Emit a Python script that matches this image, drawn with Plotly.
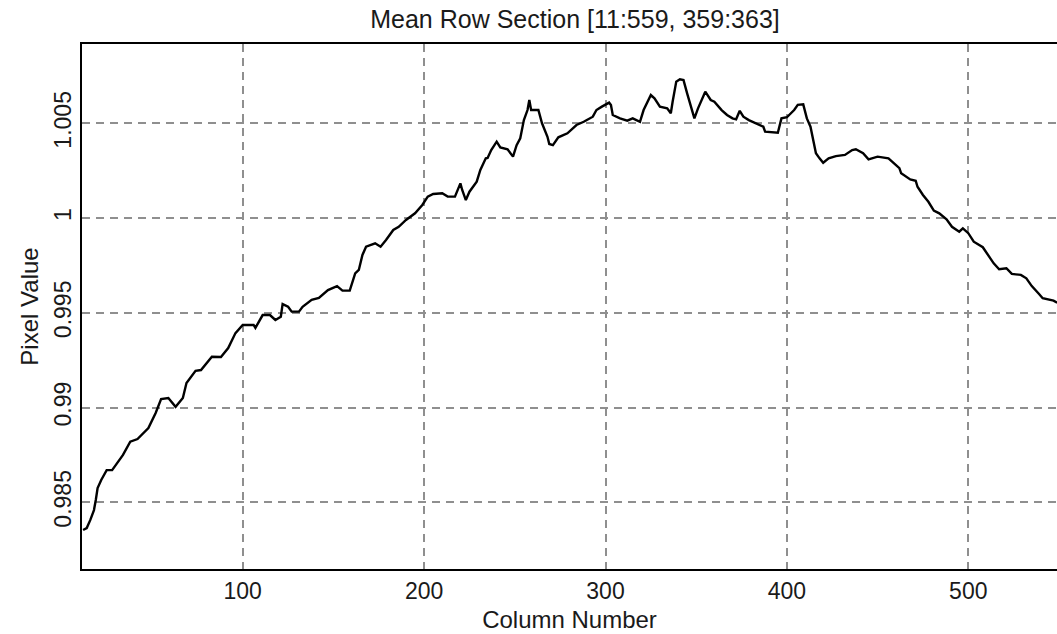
import plotly.graph_objects as go

columns = [12, 14, 16, 18, 19, 20, 22, 25, 28, 31, 34, 38, 42, 48, 52, 55, 59, 63, 67, 69,
           74, 77, 83, 88, 92, 96, 100, 106, 107, 111, 115, 118, 121, 122, 125, 127, 131, 133, 138, 142,
           147, 152, 155, 159, 162, 164, 166, 168, 173, 176, 179, 183, 186, 190, 195, 199, 202, 205, 210, 213,
           217, 220, 221, 223, 225, 229, 231, 234, 235, 237, 240, 242, 246, 249, 251, 253, 255, 257, 258, 259,
           263, 265, 268, 269, 271, 274, 279, 284, 288, 293, 295, 298, 302, 303, 304, 308, 312, 315, 319, 321,
           325, 327, 330, 334, 336, 337, 339, 341, 343, 345, 347, 348, 349, 351, 353, 355, 358, 360, 364, 367,
           370, 372, 374, 376, 379, 382, 387, 388, 392, 395, 397, 400, 404, 406, 409, 411, 413, 415, 416, 418,
           420, 423, 427, 432, 436, 438, 442, 445, 450, 456, 459, 462, 463, 468, 471, 472, 475, 478, 481, 484,
           488, 491, 495, 497, 500, 503, 508, 511, 514, 517, 521, 524, 529, 532, 535, 539, 541, 547, 549]

pixel_values = [0.98354, 0.98364, 0.98407, 0.98459, 0.98512, 0.98575, 0.98618, 0.98670, 0.98670, 0.98707,
                0.98750, 0.98820, 0.98834, 0.98892, 0.98971, 0.99045, 0.99050, 0.99004, 0.99050, 0.99130,
                0.99194, 0.99198, 0.99268, 0.99267, 0.99314, 0.99393, 0.99436, 0.99436, 0.99420, 0.99488,
                0.99488, 0.99462, 0.99479, 0.99546, 0.99532, 0.99506, 0.99506, 0.99532, 0.99568, 0.99578,
                0.99620, 0.99641, 0.99617, 0.99617, 0.99708, 0.99726, 0.99805, 0.99849, 0.99867, 0.99849,
                0.99884, 0.99937, 0.99954, 0.99990, 1.00025, 1.00069, 1.00113, 1.00127, 1.00131, 1.00113,
                1.00113, 1.00183, 1.00148, 1.00095, 1.00139, 1.00192, 1.00254, 1.00315, 1.00317, 1.00359,
                1.00403, 1.00373, 1.00363, 1.00324, 1.00385, 1.00421, 1.00517, 1.00570, 1.00623, 1.00570,
                1.00570, 1.00500, 1.00429, 1.00391, 1.00385, 1.00426, 1.00447, 1.00491, 1.00508, 1.00535,
                1.00570, 1.00588, 1.00609, 1.00597, 1.00544, 1.00526, 1.00514, 1.00526, 1.00508, 1.00570,
                1.00649, 1.00632, 1.00588, 1.00579, 1.00553, 1.00614, 1.00720, 1.00732, 1.00728, 1.00658,
                1.00588, 1.00561, 1.00526, 1.00579, 1.00627, 1.00667, 1.00623, 1.00614, 1.00570, 1.00544,
                1.00526, 1.00521, 1.00566, 1.00535, 1.00517, 1.00503, 1.00482, 1.00456, 1.00453, 1.00450,
                1.00526, 1.00532, 1.00570, 1.00597, 1.00600, 1.00526, 1.00482, 1.00377, 1.00342, 1.00315,
                1.00292, 1.00315, 1.00327, 1.00333, 1.00359, 1.00363, 1.00342, 1.00310, 1.00324, 1.00315,
                1.00289, 1.00263, 1.00236, 1.00204, 1.00197, 1.00165, 1.00122, 1.00086, 1.00039, 1.00025,
                0.99993, 0.99954, 0.99928, 0.99946, 0.99920, 0.99875, 0.99846, 0.99805, 0.99761, 0.99730,
                0.99735, 0.99705, 0.99700, 0.99682, 0.99641, 0.99599, 0.99577, 0.99564, 0.99553]

x_ticks = [100, 200, 300, 400, 500]
x_tick_labels = ["100", "200", "300", "400", "500"]
y_ticks = [0.985, 0.99, 0.995, 1.0, 1.005]
y_tick_labels = ["0.985", "0.99", "0.995", "1", "1.005"]

title_text = "Mean Row Section [11:559, 359:363]"
x_title = "Column Number"
y_title = "Pixel Value"

FONT = "Liberation Sans, Arial, sans-serif"
TEXT = "#1a1a1a"
GRID = "#8f8f8f"

fig = go.Figure(go.Scatter(
    x=columns, y=pixel_values, mode="lines",
    line=dict(color="black", width=2.4),
    hoverinfo="x+y", showlegend=False,
))

fig.update_layout(
    width=1057, height=634,
    margin=dict(l=82, r=0, t=44, b=65),
    paper_bgcolor="white", plot_bgcolor="white",
    font=dict(family=FONT, color=TEXT, size=24),
    title=dict(text=title_text, x=0.544, xanchor="center", y=0.969, yanchor="middle",
               font=dict(family=FONT, size=25, color=TEXT)),
)

fig.update_xaxes(
    range=[11.4, 548.9], tickvals=x_ticks, ticktext=x_tick_labels,
    showline=True, linecolor="black", linewidth=2, mirror=True,
    showgrid=True, gridcolor=GRID, gridwidth=2, griddash="8px,6px",
    zeroline=False, ticks="", tickfont=dict(size=23, color=TEXT),
    title=dict(text=x_title, font=dict(size=24, color=TEXT), standoff=9),
)
fig.update_yaxes(
    range=[0.98148, 1.009185], tickvals=y_ticks, ticktext=y_tick_labels,
    showline=True, linecolor="black", linewidth=2, mirror=False,
    showgrid=True, gridcolor=GRID, gridwidth=2, griddash="8px,6px",
    zeroline=False, ticks="", tickangle=-90, tickfont=dict(size=23, color=TEXT),
    title=dict(text=y_title, font=dict(size=24, color=TEXT), standoff=4),
)

fig.write_html("out.html")
